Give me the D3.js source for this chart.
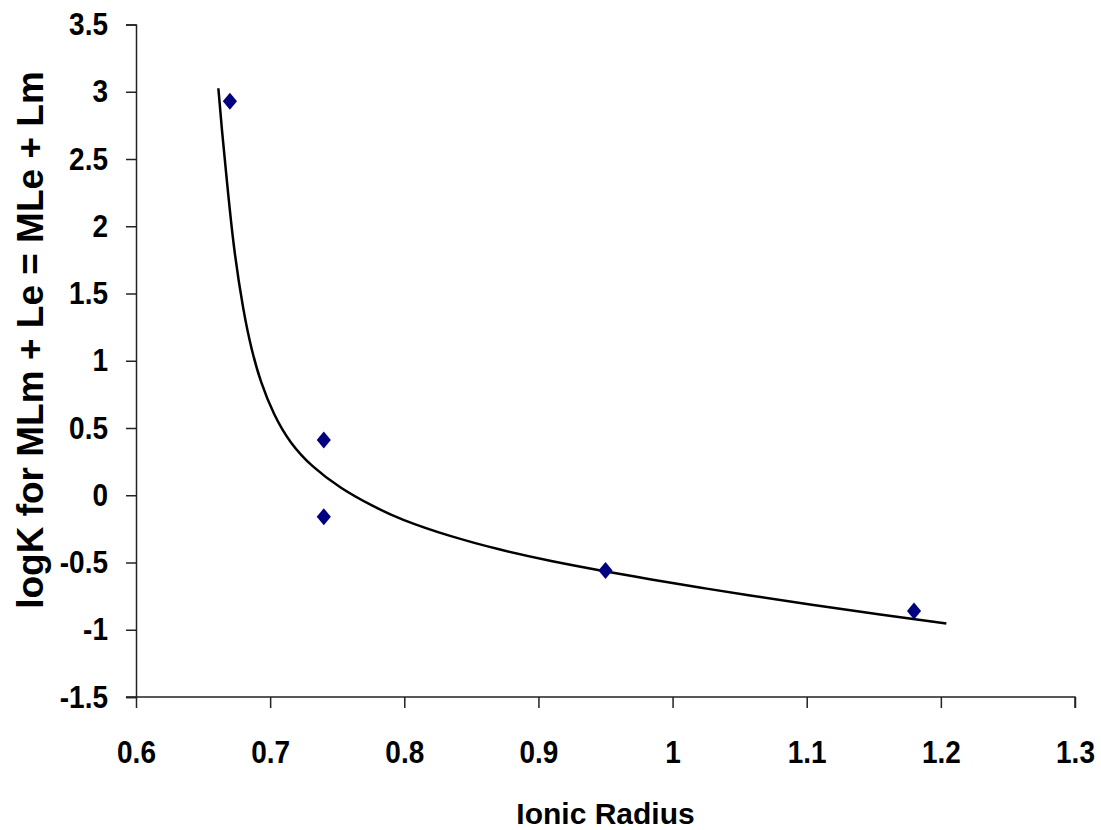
<!DOCTYPE html>
<html>
<head>
<meta charset="utf-8">
<script src="https://cdn.jsdelivr.net/npm/d3@7"></script>
<style>
  body { margin: 0; background: #fff; }
  text { font-family: "Liberation Sans", Arial, sans-serif; font-weight: bold; }
</style>
</head>
<body>
<script>
// measured points
const radius = [0.67, 0.74, 0.74, 0.95, 1.18];
const logK = [2.93, 0.41, -0.16, -0.56, -0.86];

// trend curve
const curveX = [0.6614, 0.664, 0.6677, 0.6726, 0.6801, 0.6864, 0.6926, 0.7025, 0.7149, 0.7311,
  0.7522, 0.7771, 0.7969, 0.8342, 0.8714, 0.9087, 0.951, 0.9833, 1.0206, 1.0554, 1.1051, 1.1548, 1.2041];
const curveY = [3.026, 2.716, 2.344, 1.848, 1.36, 1.07, 0.85, 0.6, 0.386, 0.212,
  0.052, -0.085, -0.179, -0.307, -0.407, -0.489, -0.568, -0.625, -0.687, -0.742, -0.816, -0.887, -0.954];

const xTicks = [0.6, 0.7, 0.8, 0.9, 1, 1.1, 1.2, 1.3];
const yTicks = [-1.5, -1, -0.5, 0, 0.5, 1, 1.5, 2, 2.5, 3, 3.5];

const W = 1101, H = 830;
const svg = d3.select("body").append("svg")
  .attr("width", W)
  .attr("height", H);

const x = d3.scaleLinear().domain([0.6, 1.3]).range([136, 1075]);
const y = d3.scaleLinear().domain([-1.5, 3.5]).range([697, 24.5]);

const fmt = d => String(d);  // plain hyphen for negatives

const xAxis = svg.append("g")
  .attr("transform", "translate(0,697)")
  .call(d3.axisBottom(x).tickValues(xTicks).tickFormat(fmt).tickSize(11).tickPadding(28));
const yAxis = svg.append("g")
  .attr("transform", "translate(136,0)")
  .call(d3.axisLeft(y).tickValues(yTicks).tickFormat(fmt).tickSize(10).tickPadding(18));

[xAxis, yAxis].forEach(function(g) {
  g.select(".domain").attr("stroke", "#222").attr("stroke-width", 1.5);
  g.selectAll(".tick line").attr("stroke", "#222").attr("stroke-width", 1.5);
  g.selectAll(".tick text")
    .attr("fill", "#000")
    .attr("font-size", "28px")
    .attr("font-family", "Liberation Sans, Arial, sans-serif")
    .attr("font-weight", "bold")
    .attr("transform", "scale(1,1.12)");
});
// x axis runs out to the left under the -1.5 tick
xAxis.select(".domain").attr("d", "M126,0H1075V11");

const pts = curveX.map((v, i) => [v, curveY[i]]);
svg.append("path")
  .datum(pts)
  .attr("fill", "none")
  .attr("stroke", "#000")
  .attr("stroke-width", 2.5)
  .attr("d", d3.line().x(d => x(d[0])).y(d => y(d[1])).curve(d3.curveBasis));

const diamond = d3.symbol().type(d3.symbolSquare).size(100);
svg.selectAll(".pt")
  .data(radius)
  .enter().append("path")
  .attr("class", "pt")
  .attr("fill", "#000080")
  .attr("d", diamond)
  .attr("transform", (d, i) => "translate(" + x(d) + "," + y(logK[i]) + ") scale(1,1.2) rotate(45)");

svg.append("text")
  .attr("x", (x(0.6) + x(1.3)) / 2)
  .attr("y", 824)
  .attr("text-anchor", "middle")
  .attr("font-size", "30px")
  .text("Ionic Radius");

svg.append("text")
  .attr("transform", "translate(43,340) rotate(-90)")
  .attr("text-anchor", "middle")
  .attr("font-size", "37px")
  .text("logK for MLm + Le = MLe + Lm");
</script>
</body>
</html>
